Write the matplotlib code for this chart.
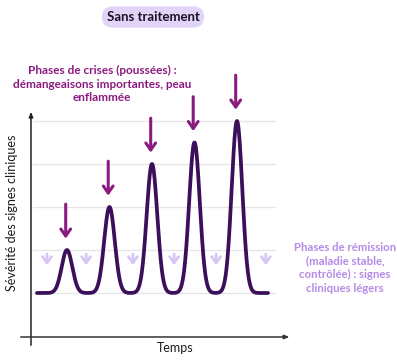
import numpy as np
import matplotlib
matplotlib.use('Agg')
import matplotlib.pyplot as plt

# peaks (crises): time position and severity level
peak_t = [1, 2, 3, 4, 5]
peak_h = [1, 2, 3, 3.5, 4]
grid_levels = [0, 1, 2, 3, 4]
# light remission arrows (time positions)
remission_t = [0.53, 1.45, 2.55, 3.52, 4.51, 5.68]

title = "Sans traitement"
crise_txt = "Phases de crises (poussées) :\ndémangeaisons importantes, peau\nenflammée"
remission_txt = "Phases de rémission\n(maladie stable,\ncontrôlée) : signes\ncliniques légers"
xlabel = "Temps"
ylabel = "Sévérité des signes cliniques"

c_curve = "#3b0f5a"
c_crise = "#8b1a7e"
c_light = "#d6c6f5"
c_remis = "#b58ae6"
c_box = "#e2d4f9"

plt.rcParams['font.family'] = ['Lato', 'DejaVu Sans']

fig = plt.figure(figsize=(3.97, 3.63), dpi=100)
ax = fig.add_axes([0, 0, 1, 1])
ax.set_xlim(-0.576, 8.765)
ax.set_ylim(-1.628, 6.814)
ax.axis('off')

# grid lines
for g in grid_levels:
    ax.plot([0.2, 5.89], [g, g], color="#e6e6e6", lw=1.0, zorder=1)

# curve
t = np.linspace(0.294, 5.73, 800)
y = np.zeros_like(t)
for p, h in zip(peak_t, peak_h):
    y += h * np.exp(-0.5 * ((t - p) / 0.125) ** 2)
ax.plot(t, y, color=c_curve, lw=2.7, solid_capstyle='round', zorder=3)

# crisis arrows
for p, h in zip(peak_t, peak_h):
    ax.annotate("", xy=(p - 0.03, h + 0.2), xytext=(p - 0.03, h + 1.13),
                arrowprops=dict(arrowstyle="->,head_length=0.5,head_width=0.35",
                                color=c_crise, lw=2.2), zorder=4)

# remission arrows
for r in remission_t:
    ax.annotate("", xy=(r, 0.58), xytext=(r, 0.97),
                arrowprops=dict(arrowstyle="->,head_length=0.45,head_width=0.32",
                                color=c_light, lw=2.0), zorder=2)

# axes arrows
ax.annotate("", xy=(0.153, 4.28), xytext=(0.153, -1.28),
            arrowprops=dict(arrowstyle="-|>,head_length=0.3,head_width=0.12",
                            color="#222222", lw=1.1))
ax.annotate("", xy=(6.3, -1.023), xytext=(-0.153, -1.023),
            arrowprops=dict(arrowstyle="-|>,head_length=0.3,head_width=0.12",
                            color="#333333", lw=1.1))

fig.text(12 / 397, 1 - 213 / 363, ylabel, rotation=90, ha='center', va='center',
         fontsize=9, color="#1a1a1a")
fig.text(175 / 397, 1 - 348 / 363, xlabel, ha='center', va='center',
         fontsize=9, color="#1a1a1a")

fig.text(153 / 397, 1 - 17 / 363, title, ha='center', va='center', fontsize=9.5,
         fontweight='bold', color="#1c1526",
         bbox=dict(boxstyle="round,pad=0.35,rounding_size=0.8", fc=c_box, ec='none'))

fig.text(102 / 397, 1 - 84 / 363, crise_txt, ha='center', va='center', fontsize=8.5,
         fontweight='bold', color=c_crise, linespacing=1.3)

fig.text(345 / 397, 1 - 268 / 363, remission_txt, ha='center', va='center', fontsize=8.2,
         fontweight='bold', color=c_remis, linespacing=1.3)

fig.savefig("out.png", dpi=100)
